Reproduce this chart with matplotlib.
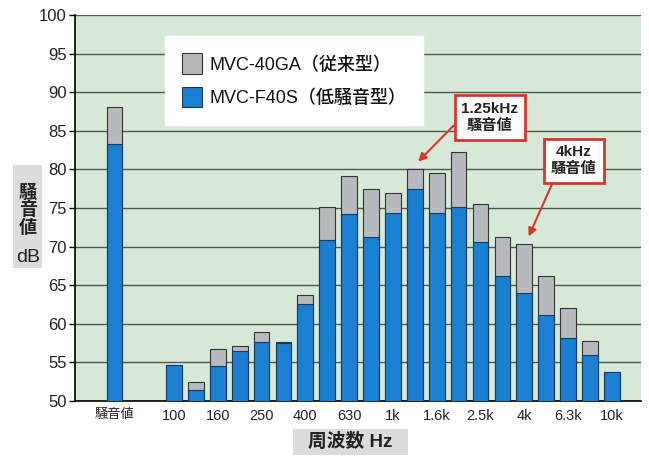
import numpy as np
import matplotlib.pyplot as plt
from matplotlib.patches import Patch, Rectangle

plt.rcParams['font.family'] = ['Liberation Sans', 'Noto Sans CJK JP', 'DejaVu Sans']

# データ（騒音値 dB）
overall_label = '騒音値'
bands = ['100', '125', '160', '200', '250', '315', '400', '500', '630', '800', '1k',
         '1.25k', '1.6k', '2k', '2.5k', '3.15k', '4k', '5k', '6.3k', '8k', '10k']
tick_bands = ['100', '160', '250', '400', '630', '1k', '1.6k', '2.5k', '4k', '6.3k', '10k']

old_overall = 88.1   # MVC-40GA（従来型）
new_overall = 83.3   # MVC-F40S（低騒音型）
old_vals = [54.7, 52.5, 56.8, 57.1, 59.0, 57.6, 63.7, 75.1, 79.2, 77.5, 76.9,
            80.1, 79.5, 82.3, 75.5, 71.3, 70.4, 66.2, 62.0, 57.8, 53.7]
new_vals = [54.7, 51.4, 54.5, 56.5, 57.7, 57.5, 62.6, 70.8, 74.2, 71.3, 74.4,
            77.5, 74.3, 75.1, 70.6, 66.2, 64.0, 61.2, 58.1, 55.9, 53.7]

series_names = ['MVC-40GA（従来型）', 'MVC-F40S（低騒音型）']

# 色
c_old = '#b6b9bd'
c_new = '#1b7fd2'
c_bg = '#d5e9d6'
c_grid = '#4c5850'
c_red = '#d9352e'

# 位置
gap = 2.72
x = np.concatenate([[0.0], gap + np.arange(len(bands))])
old_all = [old_overall] + old_vals
new_all = [new_overall] + new_vals

fig = plt.figure(figsize=(6.49, 4.58), dpi=100)
ax = fig.add_axes([75 / 649, 1 - 401 / 458, 566 / 649, 386 / 458])
ax.set_facecolor(c_bg)

w = 0.72
ax.bar(x, old_all, width=w, color=c_old, edgecolor='#333333', linewidth=0.8, zorder=3)
ax.bar(x, new_all, width=w, color=c_new, edgecolor='#1a3a5a', linewidth=0.8, zorder=4)

ax.set_ylim(50, 100)
ax.set_xlim(-1.8, 24.05)
ax.set_yticks(np.arange(50, 101, 5))
ax.yaxis.grid(True, color=c_grid, linewidth=1.0, zorder=1)
ax.set_axisbelow(True)

tick_pos = [0.0] + [gap + bands.index(b) for b in tick_bands]
ax.set_xticks(tick_pos)
ax.set_xticklabels([overall_label] + tick_bands)
for lbl in ax.get_xticklabels():
    lbl.set_fontsize(10.5)
    lbl.set_color('#222222')
ax.get_xticklabels()[0].set_fontsize(9.5)
ax.tick_params(axis='x', length=0, pad=6)
ax.tick_params(axis='y', length=4, width=1, labelsize=12, labelcolor='#222222', pad=2)

for s in ['top', 'right']:
    ax.spines[s].set_visible(False)
ax.spines['left'].set_linewidth(1.2)
ax.spines['bottom'].set_linewidth(1.2)

# 凡例
handles = [Patch(facecolor=c_old, edgecolor='#333333', linewidth=0.8),
           Patch(facecolor=c_new, edgecolor='#1a3a5a', linewidth=0.8)]
leg = ax.legend(handles, series_names, loc='upper left',
                bbox_to_anchor=(165 / 649, 1 - 36 / 458), bbox_transform=fig.transFigure,
                fontsize=13, frameon=True, fancybox=False, framealpha=1,
                facecolor='white', edgecolor='white', borderpad=0.95,
                handlelength=1.1, handleheight=1.4, handletextpad=0.4,
                labelspacing=0.7, borderaxespad=0)
leg.set_zorder(6)
for t in leg.get_texts():
    t.set_color('#111111')
    t.set_fontweight('medium')

# 注記
box_kw = dict(boxstyle='square,pad=0.45', facecolor='white', edgecolor=c_red, linewidth=2)
ax.annotate('1.25kHz\n騒音値', xy=(gap + 11 + 0.15, 81.0), xytext=(17.15, 86.7),
            ha='center', va='center', fontsize=11, fontweight='bold', color='#222222',
            linespacing=1.25, bbox=box_kw, zorder=7,
            arrowprops=dict(arrowstyle='-|>', color=c_red, lw=1.5,
                            mutation_scale=12, relpos=(0, 0.5), shrinkA=0, shrinkB=0))
ax.annotate('4kHz\n騒音値', xy=(gap + 16 + 0.2, 71.3), xytext=(20.98, 81.1),
            ha='center', va='center', fontsize=11, fontweight='bold', color='#222222',
            linespacing=1.25, bbox=box_kw, zorder=7,
            arrowprops=dict(arrowstyle='-|>', color=c_red, lw=1.5,
                            mutation_scale=12, relpos=(0.1, 0), shrinkA=0, shrinkB=0))

# 軸ラベル
fig.patches.append(Rectangle((13 / 649, 1 - 268 / 458), 29 / 649, 103 / 458,
                             transform=fig.transFigure, facecolor='#dcdcdc',
                             edgecolor='none', zorder=0))
fig.text(28 / 649, 1 - 211 / 458, '騒\n音\n値', ha='center', va='center',
         fontsize=13, fontweight='bold', linespacing=1.0, color='#222222')
fig.text(28 / 649, 1 - 258 / 458, 'dB', ha='center', va='center',
         fontsize=14, color='#222222')

fig.patches.append(Rectangle((293 / 649, 1 - 455 / 458), 115 / 649, 26 / 458,
                             transform=fig.transFigure, facecolor='#dcdcdc',
                             edgecolor='none', zorder=0))
fig.text(350 / 649, 1 - 442 / 458, '周波数 Hz', ha='center', va='center',
         fontsize=13.5, fontweight='bold', color='#222222')

fig.savefig('out.png', dpi=100)
